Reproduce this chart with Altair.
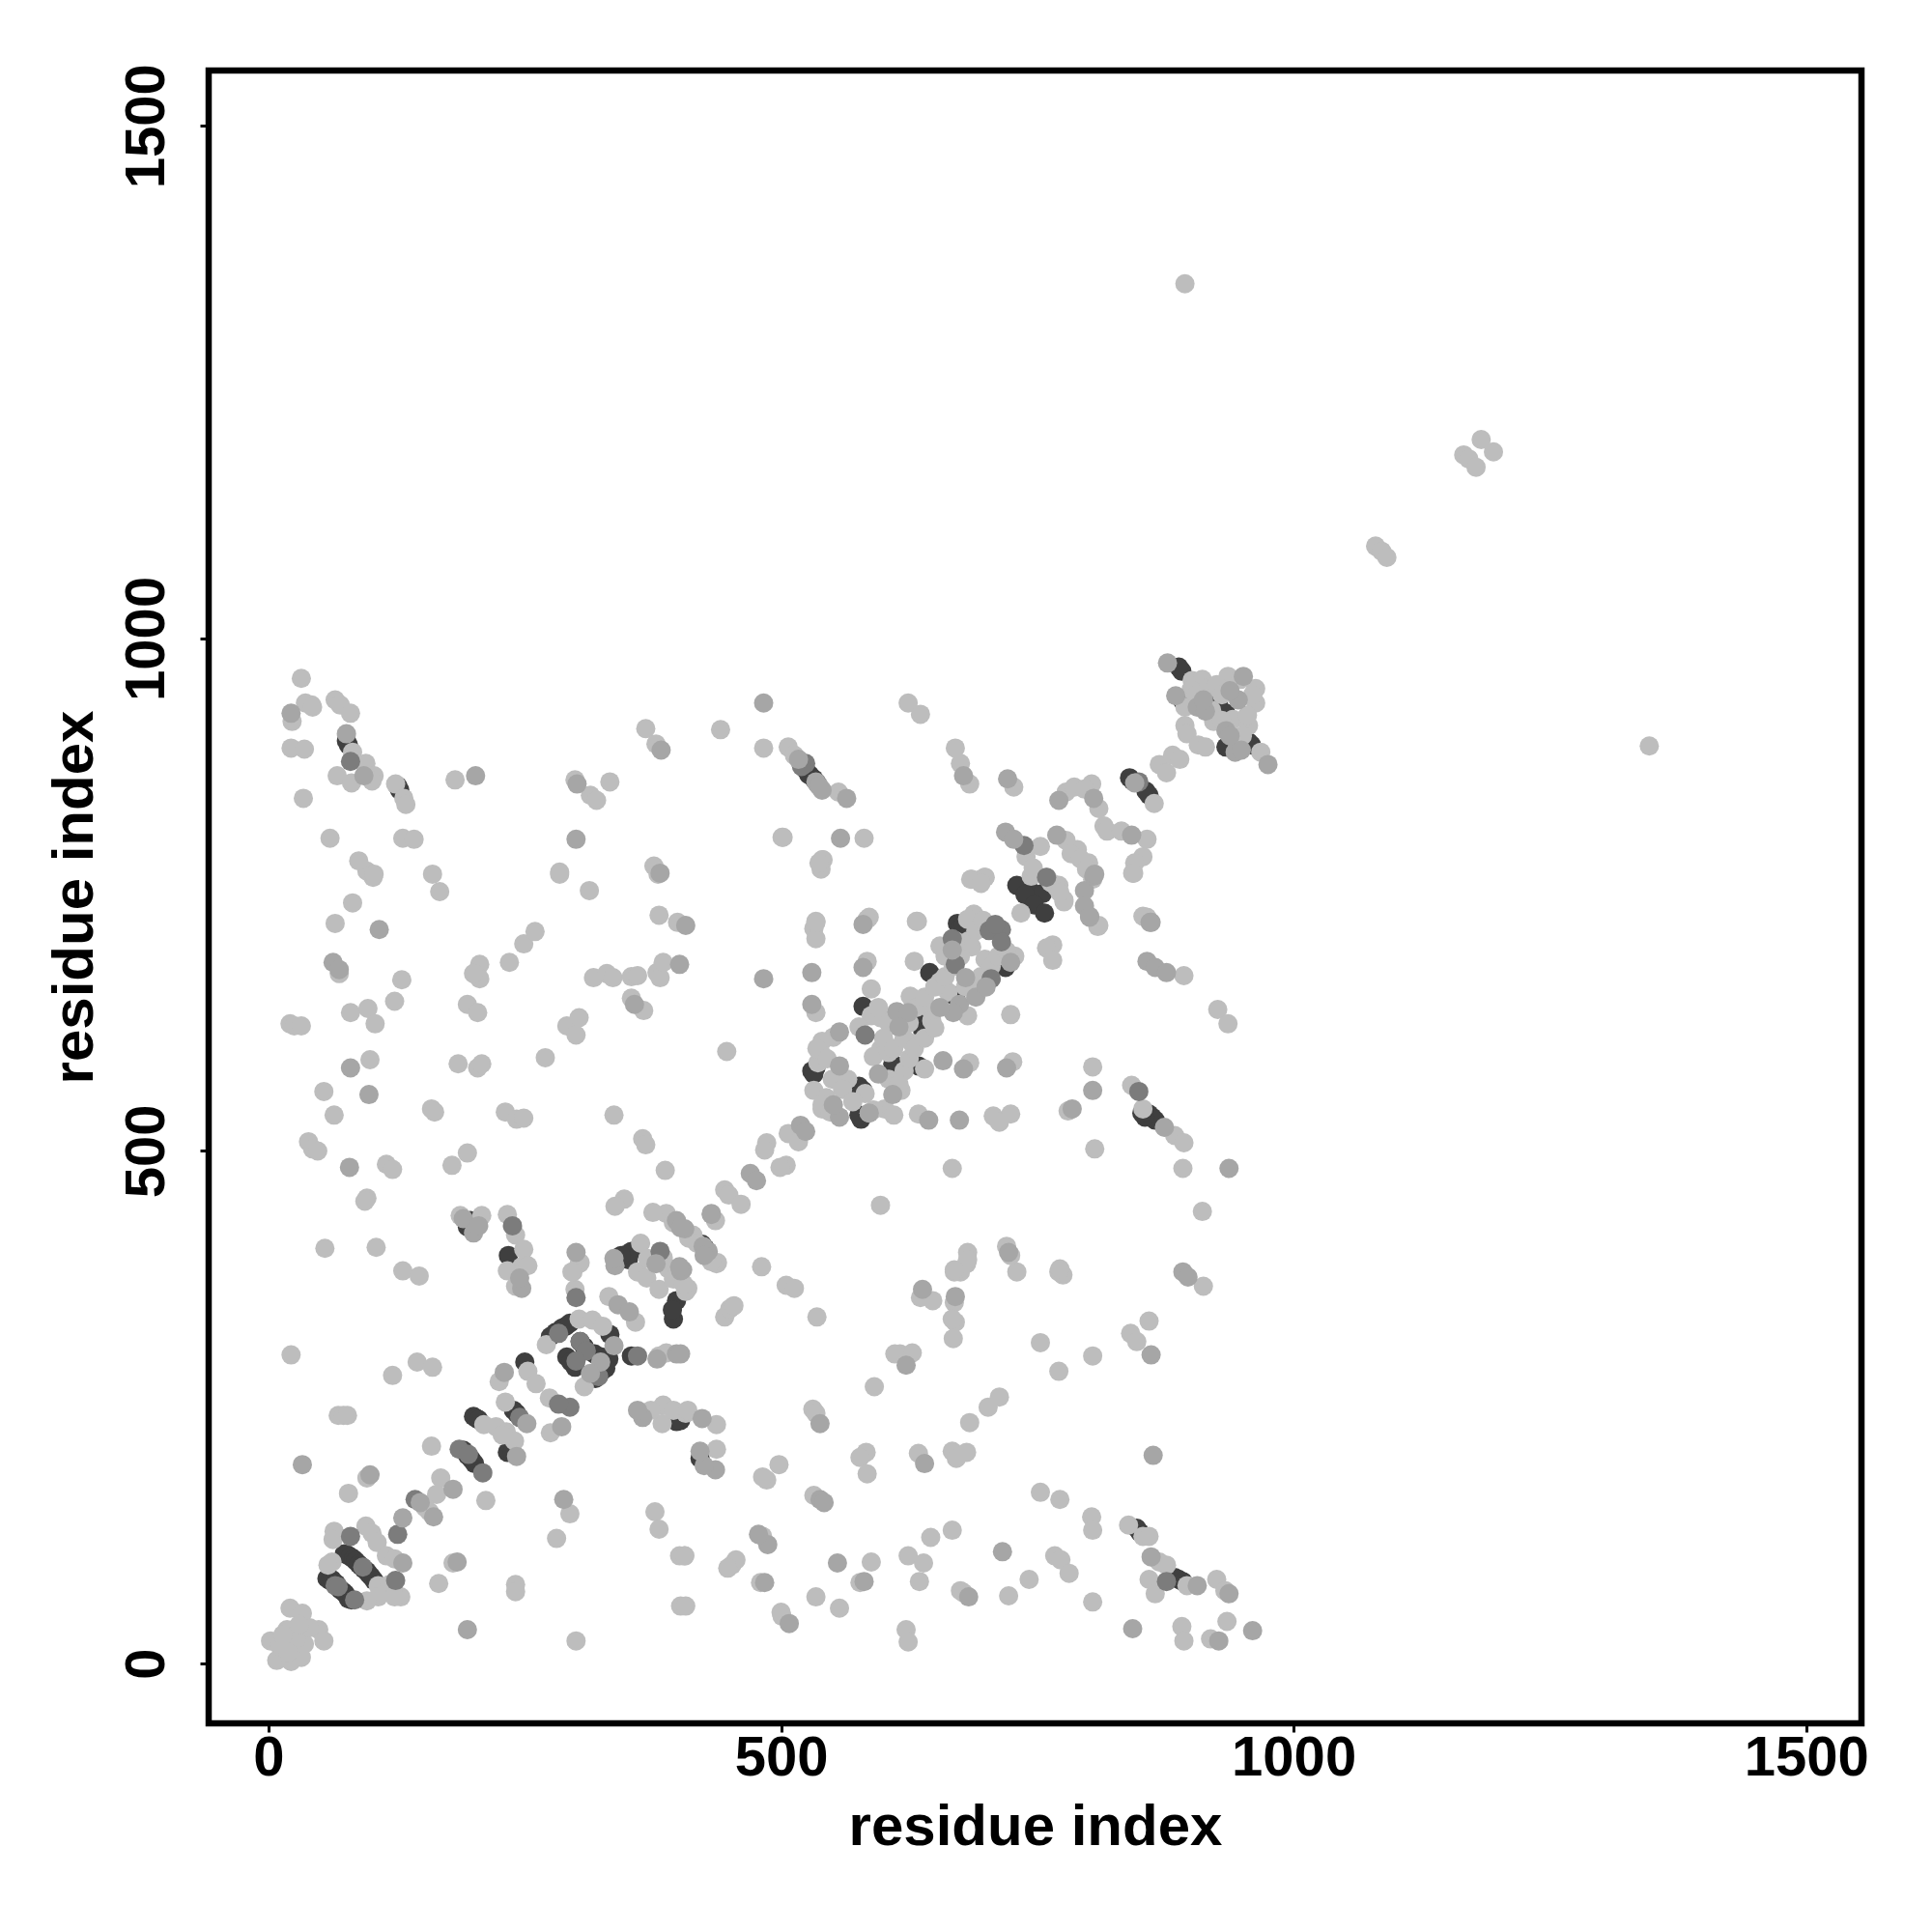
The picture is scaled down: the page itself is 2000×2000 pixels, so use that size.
import altair as alt
import pandas as pd

# residue-index pairs (x, y), grouped by grey level
dark = [
(57,83),(60,81),(62,82),(66,78),(70,72),(73,70),(75,68),(78,63),(81,62),(74,107),(77,106),(80,104),(83,102),(85,100),(88,97),(90,95),(93,92),(96,90),(98,87),(100,85),(103,81),
(200,241),(203,239),(205,238),(233,206),(238,206),(190,208),(194,203),(198,199),(201,195),(239,247),(242,244),(250,294),(354,300),
(275,319),(280,323),(286,327),(290,329),(294,332),(333,321),(291,299),(295,294),(299,289),(304,314),(308,309),(318,302),(325,299),(332,297),(329,288),(324,284),(319,278),(326,292),
(351,394),(398,354),(395,336),(394,345),(398,236),(402,237),(421,200),(847,132),(850,128),(884,84),(888,82),(892,80),
(194,426),(197,432),(234,398),(354,402),(349,399),(344,398),(423,409),(426,405),(730,759),(744,753),(755,751),(738,750),(747,740),(757,732),
(672,722),(675,717),(678,721),(719,679),(715,683),(645,674),(670,651),(638,647),(636,624),(638,618),(640,614),(580,641),(530,578),(534,581),(532,575),
(576,563),(580,559),(609,585),(634,583),(578,531),(576,535),(859,536),(862,533),(865,530),(855,533),(852,537),
(78,896),(76,900),(128,852),(126,856),(528,867),(527,867),(524,872),(532,863),(535,859),(840,864),(843,861),(859,847),(856,851),(891,968),(888,972),(924,938),(927,934),(891,940),(934,927),(934,894),(959,896),(956,899),
]
dim = [
(80,124),(126,126),(143,160),(360,300),(304,314),(300,357),(238,427),(382,402),
(715,716),(703,715),(715,704),(709,721),(667,707),(705,668),(670,682),(582,613),(849,558),(80,880),(522,878),(524,878),(737,798),(759,767),(876,80),
(65,76),(84,62),(124,81),(186,209),(209,186),(245,240),(294,250),(283,253),
(68,75),(92,94),(520,875),(195,204),(283,322),(310,305),(322,280),(300,295),(849,860),
]
mid = [
(33,194),(99,184),(288,160),(184,99),(194,33),(148,157),(161,143),(180,170),(131,98),(131,142),
(252,234),(242,202),(286,231),(230,284),(398,302),(379,297),(337,310),(324,294),(314,283),(247,366),(245,376),(341,350),(352,343),(338,388),(402,383),
(365,240),(360,247),(404,384),(402,302),(436,189),(425,193),(421,207),(423,239),(538,160),(542,157),(487,116),(478,126),(484,79),(555,98),(581,80),
(508,39),(683,65),(716,109),(861,104),(906,76),(937,68),(843,34),(927,22),(960,32),(863,203),(861,301),(892,382),(897,377),(670,358),(638,365),(622,291),
(640,195),(538,234),(108,716),(407,720),(63,684),(69,677),(401,682),(357,643),(80,581),(79,484),(98,555),
(190,434),(200,420),(205,427),(300,401),(337,395),(401,387),(398,432),(406,424),(429,402),(432,439),
(796,754),(805,768),(796,739),(801,728),(861,723),(857,685),(865,679),(876,674),(580,721),(667,696),(724,684),(680,669),(580,679),(530,674),(483,668),
(674,643),(668,635),(613,636),(624,635),(615,621),(530,643),(557,616),(557,583),(658,588),(678,580),(720,581),(609,555),(557,533),(551,545),(586,537),(644,530),(674,530),
(804,559),(784,541),(874,523),(937,483),(470,478),(476,471),(432,438),(424,407),(722,401),(519,525),(524,519),
(22,927),(76,907),(202,866),(93,866),(301,858),(383,891),(300,804),(483,937),(517,882),(534,860),(540,852),(382,771),
(537,856),(564,844),(678,866),(721,863),(771,842),(805,844),(842,808),(845,859),(877,976),(951,963),(946,940),(938,949),(885,944),(906,933),(914,929),(934,910),(943,889),(949,891),(975,877),
(719,811),(727,804),(769,808),(806,770),(801,729),(860,723),(558,805),
(655,640),(690,650),(700,660),(595,575),(378,390),(402,425),(425,398),(912,940),(938,905),
]
light = [
(2,22),(8,3),(22,2),(32,6),(21,54),(33,49),(49,33),(54,22),(35,19),(18,33),(27,24),(11,17),(19,11),(40,35),(14,28),(30,38),
(22,301),(131,383),(147,378),(145,294),(160,289),(121,281),(68,242),(73,242),(77,242),(96,181),(78,166),(159,212),(212,159),(294,146),(281,122),
(377,148),(381,131),(401,105),(406,105),(402,56),(407,56),(300,22),(241,77),(241,70),(166,78),(180,98),
(107,76),(118,77),(129,65),(123,65),(107,65),(96,61),(64,129),(63,121),(62,99),(58,96),(95,134),(101,127),(106,118),(115,105),(123,102),
(168,181),(164,165),(157,148),(153,152),(210,233),(222,231),(232,226),(240,217),(228,223),(231,255),(275,225),(253,285),(261,273),(274,259),
(225,275),(381,300),(388,303),(271,311),(303,336),(316,335),(326,329),(308,270),(299,365),(297,382),(303,390),(241,368),(247,387),(233,383),
(332,358),(358,333),(360,382),(369,376),(381,365),(407,363),(385,394),(385,252),(384,234),(407,244),(373,247),(395,247),
(481,387),(505,369),(513,366),(535,338),(445,338),(450,346),(454,349),(437,390),(409,366),(437,209),(437,233),(409,247),
(498,194),(486,179),(482,182),(532,164),(482,124),(406,105),(452,96),(456,101),(448,93),(480,79),(588,99),(577,79),(534,65),(557,54),(500,50),(501,46),
(624,105),(639,98),(635,80),(646,123),(667,130),(678,69),(675,71),(722,66),(742,82),(767,105),(773,101),(781,88),(804,60),(753,167),(772,160),(803,143),(804,130),
(839,135),(853,124),(859,124),(869,99),(876,96),(859,82),(865,68),(896,76),(925,82),(933,71),(891,36),(893,22),(919,24),(935,41),(622,33),(624,21),
(859,334),(841,322),(847,314),(753,313),(771,285),(804,300),(775,379),(771,382),(912,368),(730,382),(724,398),(681,390),(675,382),(669,382),(669,352),
(670,333),(667,336),(668,317),(648,354),(636,357),(616,302),(628,303),(611,302),(591,270),(713,260),(702,250),(684,235),(583,206),(577,201),(584,185),(634,205),
(667,207),(671,200),(681,206),(531,248),(534,244),
(82,742),(65,722),(102,767),(96,773),(160,770),(167,753),(284,770),(313,754),(380,770),(381,730),(399,723),(69,673),(130,667),(123,646),(80,635),(97,639),(104,624),
(21,624),(25,622),(32,622),(206,682),(206,668),(200,673),(235,684),(249,702),(260,714),(194,643),(204,635),(317,669),(330,673),(336,669),(354,670),(360,671),(379,674),(382,669),(385,684),
(354,649),(366,637),(291,622),(303,630),(300,613),(270,591),(99,589),(54,558),(64,535),(185,585),(204,581),(208,585),(159,541),(162,538),(231,538),(242,531),(249,532),(337,535),(365,512),(368,506),(387,481),
(39,509),(43,502),(48,500),(115,487),(121,482),(179,486),(194,498),(96,454),(94,451),(347,453),(338,446),(208,437),(187,437),(233,438),(241,418),(249,404),(253,388),(304,391),(296,382),(363,410),(385,396),
(388,439),(414,418),(55,405),(105,406),
(539,775),(695,765),(686,765),(699,767),(759,767),(771,759),(776,745),(734,732),(744,768),(809,719),(844,771),(857,728),(765,701),(759,698),(765,686),(893,671),(926,638),(936,624),
(534,724),(532,717),(534,707),(586,728),(633,724),(688,731),(682,726),(686,699),(699,687),(728,690),(667,687),(686,661),(584,685),(588,658),(630,685),(655,665),(663,655),(682,632),(647,636),(626,651),(647,627),(628,605),
(588,632),(597,630),(724,633),(534,635),(551,611),(576,621),(540,607),(540,594),(536,586),(565,570),(582,556),(597,599),(590,592),(605,596),(620,578),(640,580),(684,586),(726,587),(617,559),(532,559),(544,552),(540,541),
(586,537),(601,541),(634,536),(707,534),(724,536),(713,528),(804,582),(780,539),(806,502),(842,564),(853,541),(884,515),(893,508),(892,483),(911,441),(667,483),(597,447),(447,597),
(507,517),(517,509),(486,508),(484,501),(505,486),(499,484),(445,462),(449,457),(461,448),(436,432),(438,391),(682,401),(682,394),(669,384),(720,407),(772,385),
(32,961),(23,919),(36,937),(42,935),(43,933),(65,940),(70,935),(80,927),(22,893),(35,892),(82,889),(95,878),(103,866),(101,861),(67,866),(81,859),(124,858),(132,844),(134,838),(182,862),(34,844),
(60,805),(131,805),(142,804),(88,783),(103,770),(299,862),(333,860),(314,847),(320,842),(284,772),(368,912),(378,897),(441,911),(483,893),(507,894),(513,886),(501,806),(376,778),(541,784),
(624,937),(636,926),(556,850),(670,893),(675,878),(684,858),(727,855),(778,850),(786,855),(803,858),(796,853),(810,834),(815,817),(818,812),(832,812),(857,804),(853,787),(845,781),(843,771),
(864,839),(869,877),(876,869),(882,886),(889,882),(894,915),(896,907),(907,896),(914,894),(901,959),(911,960),(917,952),(936,963),(963,951),(963,937),(894,933),(941,921),(956,915),(922,919),(968,889),(948,960),
(753,797),(739,787),(746,776),(769,757),(776,743),(778,803),(789,794),(800,781),(783,790),(810,720),(853,729),(685,765),(699,767),(695,761),(502,806),(581,805),(540,784),(537,781),(534,723),(584,726),(632,724),
(1347,895),(894,1346),(1166,1179),(1171,1175),(1178,1167),(1183,1194),(1195,1182),(1080,1090),(1086,1085),(1091,1079),
(595,640),(605,625),(600,610),(610,600),(620,610),(625,625),(632,640),(640,650),(650,660),(660,670),(668,680),(675,690),(683,705),(690,715),(697,725),(655,700),(660,690),(670,705),(680,660),(695,670),(705,680),(712,690),(720,695),
(535,600),(545,590),(550,570),(560,560),(570,548),(590,540),(610,535),(540,545),(548,538),(605,570),(615,565),(625,590),(630,600),(640,610),(650,620),
(370,395),(390,385),(395,375),(405,370),(395,430),(410,415),(418,410),(432,392),(375,440),
(900,950),(905,945),(920,930),(930,920),(945,900),(950,905),(955,925),(960,945),(925,955),(930,945),
(763,762),(772,752),(792,785),(798,775),(804,765),
]

tick_values = [0, 500, 1000, 1500]
axis_title = "residue index"

rows = []
for level, pts in (("#3f3f3f", dark), ("#bdbdbd", light), ("#7c7c7c", dim), ("#a6a6a6", mid)):
    for px, py in pts:
        rows.append({"x": px, "y": py, "c": level})
df = pd.DataFrame(rows)
df["o"] = range(len(df))

FONT = "Liberation Sans"
def axis(angle=0, **kw):
    return alt.Axis(values=tick_values, title=axis_title, grid=False, domain=False,
                    tickColor="black", tickWidth=3, tickSize=9, labelFont=FONT, labelFontSize=58,
                    labelFontWeight="bold", labelColor="black", titleFont=FONT, titleFontSize=60,
                    titleFontWeight="bold", titleColor="black", labelOverlap=False, labelFlush=False,
                    labelAngle=angle, format="d", **kw)

chart = alt.Chart(df).mark_circle(size=400, opacity=1).encode(
    x=alt.X("x:Q", scale=alt.Scale(domain=[-58.4, 1554], nice=False, zero=False),
            axis=axis(labelPadding=-2, titlePadding=13)),
    y=alt.Y("y:Q", scale=alt.Scale(domain=[-58.4, 1554], nice=False, zero=False),
            axis=axis(angle=270, labelAlign="center", labelBaseline="bottom", labelPadding=26, titlePadding=15)),
    color=alt.Color("c:N", scale=None),
    order=alt.Order("o:Q"),
).properties(
    width=1711, height=1711,
    autosize=alt.AutoSizeParams(type="none"),
    padding={"left": 208, "top": 65, "right": 60, "bottom": 180},
    background="white",
).configure_view(stroke="black", strokeWidth=6.5)

chart.save("out.html", embed_options={"renderer": "svg", "actions": False})
